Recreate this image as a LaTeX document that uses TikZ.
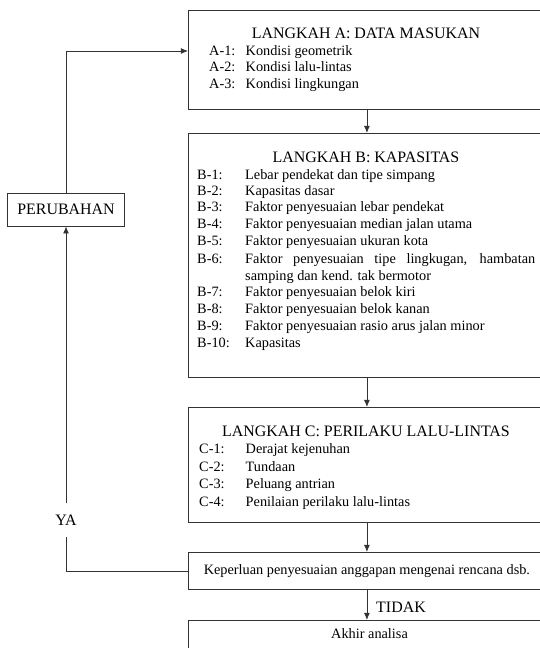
\documentclass[tikz,border=0pt]{standalone}
\usepackage{fontspec}
\setmainfont{Liberation Serif}
\usetikzlibrary{positioning}
\usetikzlibrary{arrows.meta}

\begin{document}
\begin{tikzpicture}[x=0.03cm, y=-0.03cm,
        stepbox/.style={draw=black!80, line width=0.7pt, anchor=north west,
            inner sep=0pt, minimum width=357*0.03cm},
        headtext/.style={font=\fontsize{13.6}{16}\selectfont, inner sep=0pt},
        itemtext/.style={font=\fontsize{12.2}{14.45}\selectfont, anchor=base west, inner sep=0pt},
        flow/.style={draw=black!80, line width=0.7pt, -{Latex[length=6pt, width=5pt]}}]

        \useasboundingbox (0,0) rectangle (540,648);

        % kotak langkah
        \node[stepbox, minimum height=99*0.03cm] (boxA) at (188,9.6) {};
        \node[stepbox, minimum height=244*0.03cm] (boxB) at (188,133) {};
        \node[stepbox, minimum height=115*0.03cm] (boxC) at (188,407) {};
        \node[stepbox, minimum height=37*0.03cm, font=\fontsize{12.2}{14}\selectfont]
        (check) at (188,552) {Keperluan penyesuaian anggapan mengenai rencana dsb.};
        \node[stepbox, minimum height=45*0.03cm] (akhir) at (188,620) {};

        \node[headtext] (headA) at (366,33) {LANGKAH A: DATA MASUKAN};
        \node[headtext] (headB) at (366,157) {LANGKAH B: KAPASITAS};
        \node[headtext] (headC) at (366,431) {LANGKAH C: PERILAKU LALU-LINTAS};
        \node[itemtext] (akhirtxt) at (331,638.5) {Akhir analisa};

        % langkah A
        \foreach \n/\txt in {1/Kondisi geometrik, 2/Kondisi lalu-lintas,
            3/Kondisi lingkungan}
        {
            \node[itemtext] (la\n) at (209, 38.5+\n*16.7) {A-\n:};
            \node[itemtext] (ta\n) at (245.5, 38.5+\n*16.7) {\txt};
        }

        % langkah B
        \foreach \n/\y/\txt in {1/176/Lebar pendekat dan tipe simpang,
            2/192/Kapasitas dasar,
            3/208/Faktor penyesuaian lebar pendekat,
            4/225/Faktor penyesuaian median jalan utama,
            5/242/Faktor penyesuaian ukuran kota,
            7/293/Faktor penyesuaian belok kiri,
            8/310/Faktor penyesuaian belok kanan,
            9/327/Faktor penyesuaian rasio arus jalan minor,
            10/344/Kapasitas}
        {
            \node[itemtext] (lb\n) at (197,\y+3.5) {B-\n:};
            \node[itemtext] (tb\n) at (245,\y+3.5) {\txt};
        }
        \node[itemtext] (lb6) at (197,263.5) {B-6:};
        \coordinate (bx) at (245,0);
        \node[itemtext, anchor=north west, text width=290*0.03cm, align=justify]
        (tb6) at (lb6.north -| bx)
        {Faktor penyesuaian tipe lingkugan, hambatan\linebreak samping dan kend. tak bermotor};

        % langkah C
        \foreach \n/\txt in {1/Derajat kejenuhan, 2/Tundaan,
            3/Peluang antrian, 4/Penilaian perilaku lalu-lintas}
        {
            \node[itemtext] (lc\n) at (199, 436+\n*17.5) {C-\n:};
            \node[itemtext] (tc\n) at (245.5, 436+\n*17.5) {\txt};
        }

        % umpan balik
        \node[draw=black!80, line width=0.7pt, minimum width=117*0.03cm,
            minimum height=33*0.03cm, headtext] (ubah) at (66,209.5) {PERUBAHAN};
        \node[headtext, minimum height=33*0.03cm] (ya) at (66,520) {YA};
        \node[headtext] (tidak) at (401,607.6) {TIDAK};
        \coordinate (intoA) at (188,51);

        \draw[flow] (boxA) -- (boxB);
        \draw[flow] (boxB) -- (boxC);
        \draw[flow] (boxC) -- (check);
        \draw[flow] (check) -- (akhir);
        \draw[draw=black!80, line width=0.7pt] (check.west) -| (ya.south);
        \draw[flow] (ya.north) -- (ubah.south);
        \draw[flow] (ubah.north) |- (intoA);
\end{tikzpicture}
\end{document}
